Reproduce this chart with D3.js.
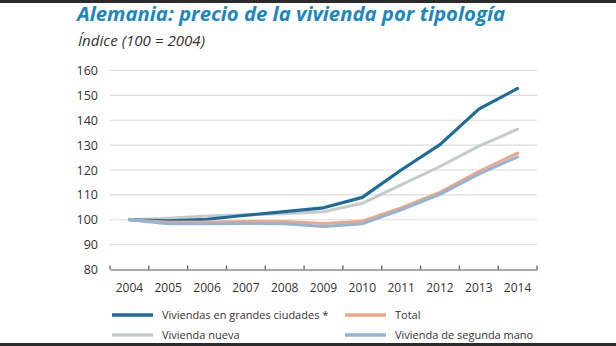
<!DOCTYPE html>
<html><head><meta charset="utf-8">
<script src="https://cdn.jsdelivr.net/npm/d3@7"></script>
<style>
html,body{margin:0;padding:0;background:#fff;}
svg{display:block;}
</style></head>
<body>
<svg id="c" width="616" height="346"></svg>
<script>
const years = ["2004","2005","2006","2007","2008","2009","2010","2011","2012","2013","2014"];
const grandesCiudades = [100, 99.6, 100.2, 101.8, 103.3, 104.8, 109.0, 120.0, 130.2, 144.5, 152.8];
const viviendaNueva   = [100, 100.6, 101.5, 102.0, 102.4, 103.2, 106.6, 114.0, 121.4, 129.6, 136.4];
const total           = [100, 99.0, 99.1, 99.3, 99.3, 98.5, 99.4, 104.8, 111.0, 119.4, 126.8];
const segundaMano     = [100, 98.4, 98.4, 98.5, 98.4, 97.3, 98.4, 104.0, 110.2, 118.3, 125.3];
const yTicks = [80, 90, 100, 110, 120, 130, 140, 150, 160];
const seriesNames = ["Viviendas en grandes ciudades *", "Total", "Vivienda nueva", "Vivienda de segunda mano"];
const titleText = "Alemania: precio de la vivienda por tipología";
const subtitleText = "Índice (100 = 2004)";

const colors = {
  "Viviendas en grandes ciudades *": "#1d6b9b",
  "Vivienda nueva": "#c5cbcb",
  "Total": "#f1a582",
  "Vivienda de segunda mano": "#8fb6d9"
};
const seriesData = {
  "Viviendas en grandes ciudades *": grandesCiudades,
  "Vivienda nueva": viviendaNueva,
  "Total": total,
  "Vivienda de segunda mano": segundaMano
};

const svg = d3.select("#c");
// dark frame bands
svg.append("rect").attr("x",0).attr("y",0).attr("width",616).attr("height",3).attr("fill","#2b2b2b");
svg.append("rect").attr("x",0).attr("y",343).attr("width",616).attr("height",3).attr("fill","#2b2b2b");

const x = d3.scaleBand().domain(years).range([110, 537]);
const y = d3.scaleLinear().domain([80, 160]).range([269.5, 70.5]);

// title
svg.append("text").attr("x",77).attr("y",21)
  .attr("font-family","'Open Sans', sans-serif").attr("font-weight","bold").attr("font-style","italic")
  .attr("font-size",19).attr("fill","#1a87bf")
  .attr("textLength",428).attr("lengthAdjust","spacingAndGlyphs")
  .text(titleText);
svg.append("text").attr("x",78).attr("y",46)
  .attr("font-family","'Open Sans', sans-serif").attr("font-style","italic")
  .attr("font-size",14).attr("fill","#333")
  .attr("textLength",127).attr("lengthAdjust","spacingAndGlyphs")
  .text(subtitleText);

// gridlines
svg.append("g").selectAll("line").data(yTicks.filter(d=>d>80)).join("line")
  .attr("x1",110).attr("x2",537).attr("y1",d=>y(d)).attr("y2",d=>y(d))
  .attr("stroke","#dcdcdc").attr("stroke-width",1.2);

// y axis labels
const yAxis = svg.append("g").attr("transform","translate(110,0)")
  .call(d3.axisLeft(y).tickValues(yTicks).tickSize(0).tickPadding(12));
yAxis.select(".domain").remove();
yAxis.selectAll("text").attr("font-family","'Open Sans', sans-serif").attr("font-size",12.5).attr("fill","#333");

// x axis
const xAxis = svg.append("g").attr("transform",`translate(0,${y(80)})`)
  .call(d3.axisBottom(x).tickSize(0).tickPadding(14));
xAxis.select(".domain").attr("stroke","#555").attr("stroke-width",1.2);
xAxis.selectAll("text").attr("font-family","'Open Sans', sans-serif").attr("font-size",12).attr("fill","#333");
// tick marks at band boundaries (pointing up)
const bounds = years.map(d=>x(d)).concat([x(years[years.length-1]) + x.bandwidth()]);
xAxis.append("g").selectAll("line").data(bounds).join("line")
  .attr("x1",d=>d).attr("x2",d=>d).attr("y1",0).attr("y2",-4)
  .attr("stroke","#555").attr("stroke-width",1.2);

// lines
const line = d3.line().x((d,i)=>x(years[i]) + x.bandwidth()/2).y(d=>y(d)).curve(d3.curveLinear);
const drawOrder = ["Vivienda nueva", "Viviendas en grandes ciudades *", "Total", "Vivienda de segunda mano"];
svg.append("g").selectAll("path").data(drawOrder).join("path")
  .attr("d",k=>line(seriesData[k]))
  .attr("fill","none").attr("stroke",k=>colors[k])
  .attr("stroke-width",k=>k==="Viviendas en grandes ciudades *"?3.2:3)
  .attr("stroke-linejoin","round").attr("stroke-linecap","round");

// legend
const legendPos = [
  {name:"Viviendas en grandes ciudades *", x:112, y:315},
  {name:"Total", x:345, y:315},
  {name:"Vivienda nueva", x:112, y:335},
  {name:"Vivienda de segunda mano", x:345, y:335}
];
const lg = svg.append("g").selectAll("g").data(legendPos).join("g")
  .attr("transform",d=>`translate(${d.x},${d.y})`);
lg.append("line").attr("x1",0).attr("x2",41).attr("y1",0).attr("y2",0)
  .attr("stroke",d=>colors[d.name]).attr("stroke-width",3.5);
lg.append("text").attr("x",50).attr("y",4)
  .attr("font-family","'Open Sans', sans-serif").attr("font-size",11).attr("fill","#333")
  .text(d=>d.name);
</script>
</body></html>
